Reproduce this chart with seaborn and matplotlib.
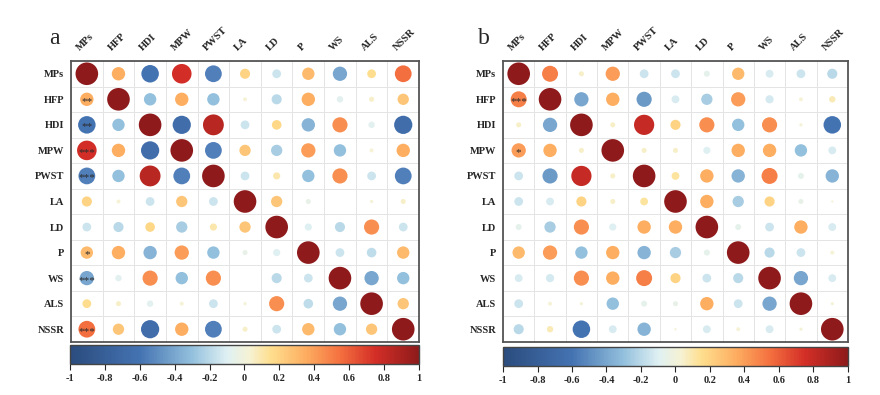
import numpy as np
import pandas as pd
import matplotlib
matplotlib.use("Agg")
import matplotlib.pyplot as plt
import seaborn as sns
from matplotlib.colors import LinearSegmentedColormap, Normalize

labels = ["MPs", "HFP", "HDI", "MPW", "PWST", "LA", "LD", "P", "WS", "ALS", "NSSR"]

# correlation matrix, panel a
r_a = [
    [1.00, 0.35, -0.60, 0.75, -0.55, 0.20, -0.15, 0.30, -0.40, 0.15, 0.55],
    [0.35, 1.00, -0.30, 0.35, -0.30, 0.03, -0.20, 0.35, -0.08, 0.05, 0.25],
    [-0.60, -0.30, 1.00, -0.65, 0.85, -0.15, 0.18, -0.35, 0.45, -0.08, -0.65],
    [0.75, 0.35, -0.65, 1.00, -0.55, 0.25, -0.25, 0.40, -0.30, 0.03, 0.35],
    [-0.55, -0.30, 0.85, -0.55, 1.00, -0.15, 0.10, -0.30, 0.45, -0.15, -0.55],
    [0.20, 0.03, -0.15, 0.25, -0.15, 1.00, 0.25, -0.05, 0.00, 0.02, 0.05],
    [-0.15, -0.20, 0.18, -0.25, 0.10, 0.25, 1.00, -0.10, -0.20, 0.45, -0.15],
    [0.30, 0.35, -0.35, 0.40, -0.30, -0.05, -0.10, 1.00, -0.15, -0.18, 0.30],
    [-0.40, -0.08, 0.45, -0.30, 0.45, 0.00, -0.20, -0.15, 1.00, -0.40, -0.30],
    [0.15, 0.05, -0.08, 0.03, -0.15, 0.02, 0.45, -0.18, -0.40, 1.00, 0.25],
    [0.55, 0.25, -0.65, 0.35, -0.55, 0.05, -0.15, 0.30, -0.30, 0.25, 1.00],
]

# correlation matrix, panel b
r_b = [
    [1.00, 0.50, 0.05, 0.40, -0.15, -0.15, -0.07, 0.30, -0.12, -0.15, -0.20],
    [0.50, 1.00, -0.40, 0.35, -0.45, -0.12, -0.25, 0.40, -0.13, 0.03, 0.08],
    [0.05, -0.40, 1.00, 0.05, 0.80, 0.20, 0.45, -0.30, 0.45, 0.02, -0.60],
    [0.40, 0.35, 0.05, 1.00, 0.05, 0.05, -0.10, 0.35, 0.35, -0.30, -0.12],
    [-0.15, -0.45, 0.80, 0.05, 1.00, 0.12, 0.35, -0.35, 0.50, -0.07, -0.35],
    [-0.15, -0.12, 0.20, 0.05, 0.12, 1.00, 0.35, -0.25, 0.20, -0.05, 0.01],
    [-0.07, -0.25, 0.45, -0.10, 0.35, 0.35, 1.00, -0.07, -0.15, 0.35, -0.12],
    [0.30, 0.40, -0.30, 0.35, -0.35, -0.25, -0.07, 1.00, -0.20, -0.15, 0.03],
    [-0.12, -0.13, 0.45, 0.35, 0.50, 0.20, -0.15, -0.20, 1.00, -0.40, -0.12],
    [-0.15, 0.03, 0.02, -0.30, -0.07, -0.05, 0.35, -0.15, -0.40, 1.00, 0.02],
    [-0.20, 0.08, -0.60, -0.12, -0.35, 0.01, -0.12, 0.03, -0.12, 0.02, 1.00],
]

# significance marks in the MPs column
stars_a = ["", "**", "**", "***", "***", "", "", "*", "***", "", "***"]
stars_b = ["", "***", "", "*", "", "", "", "", "", "", ""]

cbar_ticks = [-1, -0.8, -0.6, -0.4, -0.2, 0, 0.2, 0.4, 0.6, 0.8, 1]
cbar_labels = ["-1", "-0.8", "-0.6", "-0.4", "-0.2", "0", "0.2", "0.4", "0.6", "0.8", "1"]

sns.set_style("white")
plt.rcParams["font.family"] = ["Liberation Serif", "DejaVu Serif"]
plt.rcParams["font.weight"] = "bold"

cmap_pos = [-1, -0.6, -0.3, -0.1, 0.03, 0.15, 0.35, 0.55, 0.75, 1]
cmap_hex = ["#2b4c7e", "#4473b2", "#94c1dd", "#dff0f3", "#f6f2d4",
            "#fedf8f", "#fdae61", "#f4703f", "#d42f27", "#8e1a1b"]
cmap = LinearSegmentedColormap.from_list(
    "corr", list(zip([(p + 1) / 2 for p in cmap_pos], cmap_hex)))

fig = plt.figure(figsize=(8.8, 3.95), dpi=100)


def draw_panel(ax, cax, r, stars):
    n = len(labels)
    df = pd.DataFrame([(i, j, r[i][j]) for i in range(n) for j in range(n)],
                      columns=["row", "col", "r"])
    df["size"] = df["r"].abs()
    for k in np.arange(-0.5, n, 1):
        ax.axhline(k, color="#e4e4e4", lw=0.7, zorder=0)
        ax.axvline(k, color="#e4e4e4", lw=0.7, zorder=0)
    sns.scatterplot(data=df, x="col", y="row", hue="r", size="size",
                    palette=cmap, hue_norm=(-1, 1), size_norm=(0, 1),
                    sizes=(0, 265), edgecolor="none", legend=False, ax=ax)
    ax.set_xlim(-0.5, n - 0.5)
    ax.set_ylim(n - 0.5, -0.5)
    ax.set_xlabel("")
    ax.set_ylabel("")
    ax.set_xticks([])
    ax.set_yticks(range(n))
    ax.set_yticklabels(labels, fontsize=7.5, fontweight="bold")
    ax.tick_params(axis="y", length=0, pad=5)
    for s in ax.spines.values():
        s.set_edgecolor("#555555")
        s.set_linewidth(1.3)
    for j, lab in enumerate(labels):
        ax.text(j - 0.17, -0.85, lab, rotation=45, rotation_mode="anchor",
                ha="left", va="bottom", fontsize=7.5, fontweight="bold",
                clip_on=False)
    for i, s in enumerate(stars):
        if s:
            ax.text(0, i + 0.08, s, ha="center", va="center", fontsize=8,
                    fontweight="normal", color="#2b2b2b")

    sm = matplotlib.cm.ScalarMappable(norm=Normalize(-1, 1), cmap=cmap)
    cb = fig.colorbar(sm, cax=cax, orientation="horizontal")
    cb.set_ticks(cbar_ticks)
    cb.set_ticklabels(cbar_labels)
    cb.outline.set_edgecolor("#444444")
    cb.outline.set_linewidth(1.0)
    cax.tick_params(length=4, width=0.8, labelsize=7.5, pad=3)
    for t in cax.get_xticklabels():
        t.set_fontweight("bold")


ax_a = fig.add_axes([0.0807, 0.1342, 0.3955, 0.7114])
cax_a = fig.add_axes([0.0795, 0.0785, 0.3966, 0.048])
ax_b = fig.add_axes([0.5716, 0.1342, 0.3920, 0.7114])
cax_b = fig.add_axes([0.5716, 0.0734, 0.3920, 0.048])

draw_panel(ax_a, cax_a, r_a, stars_a)
draw_panel(ax_b, cax_b, r_b, stars_b)

fig.text(54 / 880, 1 - 39 / 395, "a", fontsize=17, fontweight="normal",
         ha="center", va="center")
fig.text(484 / 880, 1 - 38 / 395, "b", fontsize=17, fontweight="normal",
         ha="center", va="center")

fig.savefig("out.png", dpi=100)
